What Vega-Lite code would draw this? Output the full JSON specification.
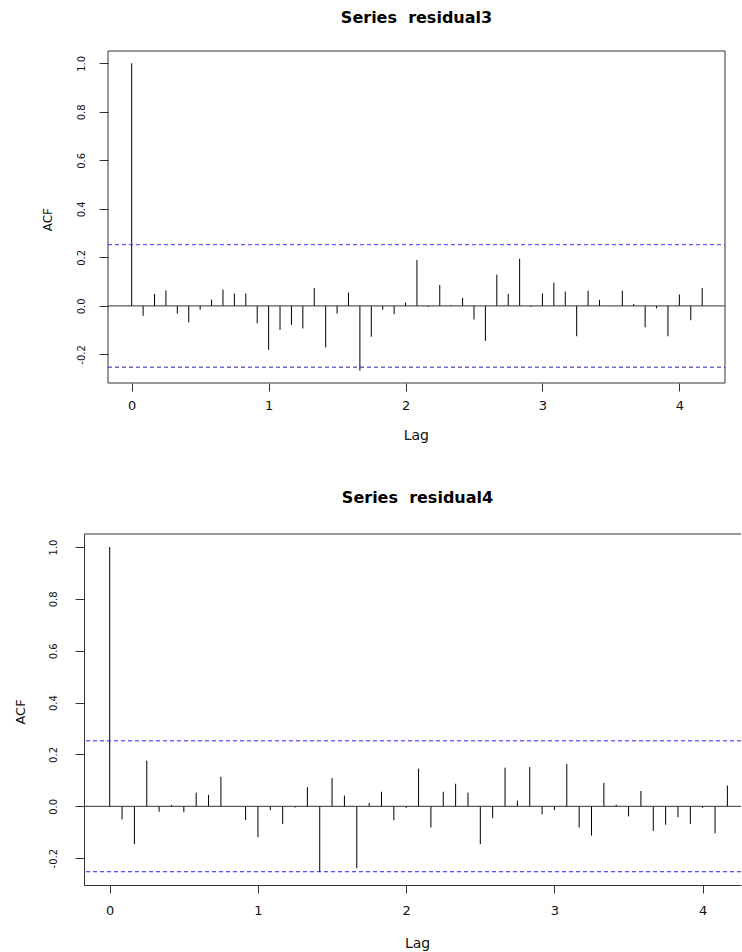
{
  "$schema": "https://vega.github.io/schema/vega-lite/v6.json",
  "padding": {"left": 14, "top": 9, "right": 0, "bottom": 0},
  "background": "white",
  "spacing": 46,
  "config": {
    "view": {"stroke": null},
    "font": "DejaVu Sans",
    "axis": {"domainColor": "#333", "tickColor": "#333", "labelColor": "#111", "titleColor": "#111", "labelFont": "DejaVu Sans", "titleFont": "DejaVu Sans", "titleFontWeight": "normal", "grid": false}
  },
  "datasets": {
    "r3": [
      {"lag": 0, "acf": 1.0}, {"lag": 0.0833, "acf": -0.041}, {"lag": 0.1667, "acf": 0.049}, {"lag": 0.25, "acf": 0.064},
      {"lag": 0.3333, "acf": -0.032}, {"lag": 0.4167, "acf": -0.068}, {"lag": 0.5, "acf": -0.016}, {"lag": 0.5833, "acf": 0.026},
      {"lag": 0.6667, "acf": 0.067}, {"lag": 0.75, "acf": 0.051}, {"lag": 0.8333, "acf": 0.051}, {"lag": 0.9167, "acf": -0.071},
      {"lag": 1, "acf": -0.181}, {"lag": 1.0833, "acf": -0.099}, {"lag": 1.1667, "acf": -0.078}, {"lag": 1.25, "acf": -0.093},
      {"lag": 1.3333, "acf": 0.074}, {"lag": 1.4167, "acf": -0.171}, {"lag": 1.5, "acf": -0.032}, {"lag": 1.5833, "acf": 0.055},
      {"lag": 1.6667, "acf": -0.267}, {"lag": 1.75, "acf": -0.127}, {"lag": 1.8333, "acf": -0.016}, {"lag": 1.9167, "acf": -0.034},
      {"lag": 2, "acf": 0.014}, {"lag": 2.0833, "acf": 0.189}, {"lag": 2.1667, "acf": -0.004}, {"lag": 2.25, "acf": 0.086},
      {"lag": 2.3333, "acf": 0.004}, {"lag": 2.4167, "acf": 0.033}, {"lag": 2.5, "acf": -0.056}, {"lag": 2.5833, "acf": -0.144},
      {"lag": 2.6667, "acf": 0.129}, {"lag": 2.75, "acf": 0.049}, {"lag": 2.8333, "acf": 0.195}, {"lag": 2.9167, "acf": -0.004},
      {"lag": 3, "acf": 0.051}, {"lag": 3.0833, "acf": 0.096}, {"lag": 3.1667, "acf": 0.059}, {"lag": 3.25, "acf": -0.125},
      {"lag": 3.3333, "acf": 0.063}, {"lag": 3.4167, "acf": 0.025}, {"lag": 3.5, "acf": 0.002}, {"lag": 3.5833, "acf": 0.063},
      {"lag": 3.6667, "acf": 0.008}, {"lag": 3.75, "acf": -0.088}, {"lag": 3.8333, "acf": -0.01}, {"lag": 3.9167, "acf": -0.125},
      {"lag": 4, "acf": 0.047}, {"lag": 4.0833, "acf": -0.059}, {"lag": 4.1667, "acf": 0.074}
    ],
    "r4": [
      {"lag": 0, "acf": 1.0}, {"lag": 0.0833, "acf": -0.051}, {"lag": 0.1667, "acf": -0.146}, {"lag": 0.25, "acf": 0.176},
      {"lag": 0.3333, "acf": -0.021}, {"lag": 0.4167, "acf": 0.005}, {"lag": 0.5, "acf": -0.023}, {"lag": 0.5833, "acf": 0.053},
      {"lag": 0.6667, "acf": 0.044}, {"lag": 0.75, "acf": 0.114}, {"lag": 0.8333, "acf": 0.001}, {"lag": 0.9167, "acf": -0.053},
      {"lag": 1, "acf": -0.119}, {"lag": 1.0833, "acf": -0.015}, {"lag": 1.1667, "acf": -0.068}, {"lag": 1.25, "acf": -0.005},
      {"lag": 1.3333, "acf": 0.074}, {"lag": 1.4167, "acf": -0.253}, {"lag": 1.5, "acf": 0.109}, {"lag": 1.5833, "acf": 0.041},
      {"lag": 1.6667, "acf": -0.239}, {"lag": 1.75, "acf": 0.013}, {"lag": 1.8333, "acf": 0.056}, {"lag": 1.9167, "acf": -0.054},
      {"lag": 2, "acf": -0.006}, {"lag": 2.0833, "acf": 0.145}, {"lag": 2.1667, "acf": -0.082}, {"lag": 2.25, "acf": 0.056},
      {"lag": 2.3333, "acf": 0.087}, {"lag": 2.4167, "acf": 0.053}, {"lag": 2.5, "acf": -0.146}, {"lag": 2.5833, "acf": -0.046},
      {"lag": 2.6667, "acf": 0.149}, {"lag": 2.75, "acf": 0.022}, {"lag": 2.8333, "acf": 0.151}, {"lag": 2.9167, "acf": -0.031},
      {"lag": 3, "acf": -0.015}, {"lag": 3.0833, "acf": 0.163}, {"lag": 3.1667, "acf": -0.082}, {"lag": 3.25, "acf": -0.113},
      {"lag": 3.3333, "acf": 0.09}, {"lag": 3.4167, "acf": 0.006}, {"lag": 3.5, "acf": -0.039}, {"lag": 3.5833, "acf": 0.059},
      {"lag": 3.6667, "acf": -0.095}, {"lag": 3.75, "acf": -0.071}, {"lag": 3.8333, "acf": -0.042}, {"lag": 3.9167, "acf": -0.068},
      {"lag": 4, "acf": -0.006}, {"lag": 4.0833, "acf": -0.104}, {"lag": 4.1667, "acf": 0.08}
    ]
  },
  "vconcat": [
    {
      "width": 641,
      "height": 332,
      "title": {"text": "Series\u00a0 residual3", "font": "DejaVu Sans", "fontSize": 16, "fontWeight": "bold", "color": "#000", "anchor": "middle", "frame": "group", "baseline": "alphabetic", "offset": 11.6, "dx": 12},
      "layer": [
        {
          "data": {"name": "r3"},
          "mark": {"type": "rule", "color": "#000", "strokeWidth": 1},
          "encoding": {
            "x": {"field": "lag", "type": "quantitative", "scale": {"domain": [-0.3484, 4.3333], "nice": false, "zero": false},
              "axis": {"title": "Lag", "values": [0, 1, 2, 3, 4], "format": "d", "domain": false, "tickSize": 8, "labelFontSize": 13, "labelBaseline": "alphabetic", "labelPadding": 18.6, "labelFlush": false, "labelOverlap": false, "titleFontSize": 14, "titleX": 331.8, "titleY": 56.6, "titleBaseline": "alphabetic", "titleAlign": "center"}},
            "y": {"field": "acf", "type": "quantitative", "scale": {"domain": [-0.3177, 1.0507], "nice": false, "zero": false},
              "axis": {"title": "ACF", "offset": -24, "values": [-0.2, 0, 0.2, 0.4, 0.6, 0.8, 1], "labelExpr": "replace(format(datum.value, '.1f'), '−', '-')", "domain": false, "tickSize": 9, "labelAngle": -90, "labelAlign": "center", "labelBaseline": "alphabetic", "labelPadding": 14.5, "labelFontSize": 10, "labelFlush": false, "labelOverlap": false, "titleFontSize": 12, "titleAngle": -90, "titleX": -56.3, "titleY": 168.2, "titleBaseline": "alphabetic", "titleAlign": "center"}},
            "y2": {"datum": 0}
          }
        },
        {
          "data": {"values": [{}]},
          "mark": {"type": "rect", "fill": "transparent", "stroke": "#333", "strokeWidth": 1},
          "encoding": {"x": {"datum": -0.173}, "x2": {"datum": 4.3333}, "y": {"datum": -0.3177}, "y2": {"datum": 1.0507}}
        },
        {
          "data": {"values": [{}]},
          "mark": {"type": "rule", "color": "#333", "strokeWidth": 1},
          "encoding": {"x": {"datum": -0.173}, "x2": {"datum": 4.3333}, "y": {"datum": 0}}
        },
        {
          "data": {"values": [{}]},
          "mark": {"type": "rule", "color": "#3030ff", "strokeWidth": 1, "strokeDash": [4, 3]},
          "encoding": {"x": {"datum": -0.173}, "x2": {"datum": 4.3333}, "y": {"datum": 0.2524}}
        },
        {
          "data": {"values": [{}]},
          "mark": {"type": "rule", "color": "#2020c0", "strokeWidth": 1, "strokeDash": [4, 3]},
          "encoding": {"x": {"datum": -0.173}, "x2": {"datum": 4.3333}, "y": {"datum": -0.2524}}
        }
      ]
    },
    {
      "width": 657,
      "height": 351,
      "title": {"text": "Series\u00a0 residual4", "font": "DejaVu Sans", "fontSize": 16, "fontWeight": "bold", "color": "#000", "anchor": "middle", "frame": "group", "baseline": "alphabetic", "offset": 15, "dx": 5},
      "layer": [
        {
          "data": {"name": "r4"},
          "mark": {"type": "rule", "color": "#000", "strokeWidth": 1},
          "encoding": {
            "x": {"field": "lag", "type": "quantitative", "scale": {"domain": [-0.1734, 4.2584], "nice": false, "zero": false},
              "axis": {"title": "Lag", "values": [0, 1, 2, 3, 4], "format": "d", "domain": true, "tickSize": 8, "labelFontSize": 13, "labelBaseline": "alphabetic", "labelPadding": 21, "labelFlush": false, "labelOverlap": false, "titleFontSize": 14, "titleX": 333, "titleY": 62.7, "titleBaseline": "alphabetic", "titleAlign": "center"}},
            "y": {"field": "acf", "type": "quantitative", "scale": {"domain": [-0.3035, 1.0501], "nice": false, "zero": false},
              "axis": {"title": "ACF", "values": [-0.2, 0, 0.2, 0.4, 0.6, 0.8, 1], "labelExpr": "replace(format(datum.value, '.1f'), '−', '-')", "domain": true, "tickSize": 9, "labelAngle": -90, "labelAlign": "center", "labelBaseline": "alphabetic", "labelPadding": 18.3, "labelFontSize": 10, "labelFlush": false, "labelOverlap": false, "titleFontSize": 13, "titleAngle": -90, "titleX": -60, "titleY": 177.5, "titleBaseline": "alphabetic", "titleAlign": "center"}},
            "y2": {"datum": 0}
          }
        },
        {
          "data": {"values": [{}]},
          "mark": {"type": "rule", "color": "#333", "strokeWidth": 1},
          "encoding": {"y": {"datum": 1.0501}}
        },
        {
          "data": {"values": [{}]},
          "mark": {"type": "rule", "color": "#333", "strokeWidth": 1},
          "encoding": {"y": {"datum": 0}}
        },
        {
          "data": {"values": [{}]},
          "mark": {"type": "rule", "color": "#2020ff", "strokeWidth": 1, "strokeDash": [4, 3]},
          "encoding": {"y": {"datum": 0.2524}}
        },
        {
          "data": {"values": [{}]},
          "mark": {"type": "rule", "color": "#2020ff", "strokeWidth": 1, "strokeDash": [4, 3]},
          "encoding": {"y": {"datum": -0.2524}}
        }
      ]
    }
  ]
}
